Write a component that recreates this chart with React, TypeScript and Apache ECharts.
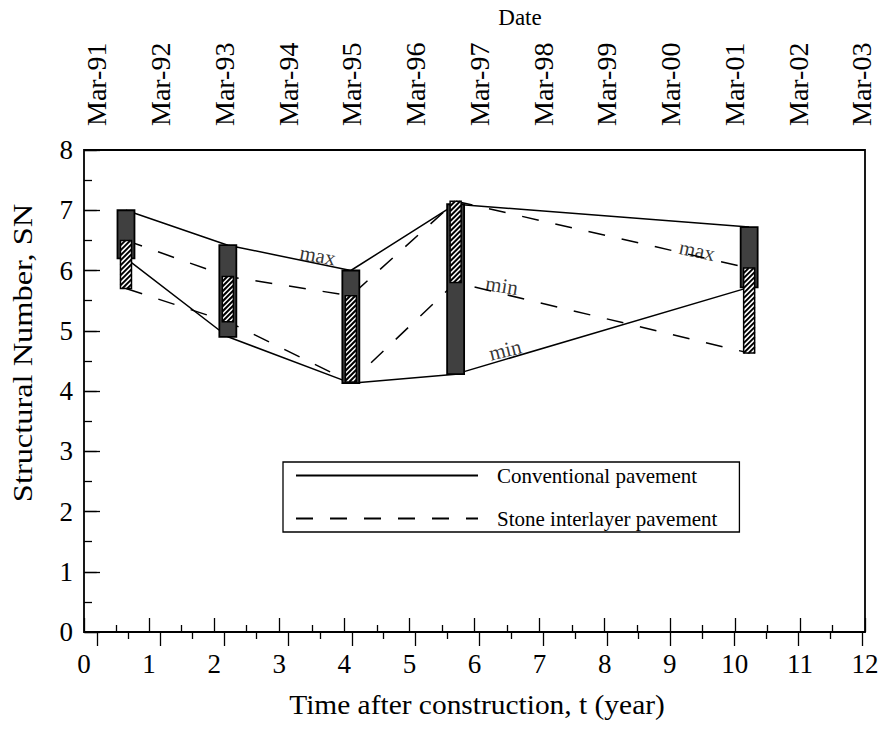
import React, { useEffect, useRef } from 'react';
import * as echarts from 'echarts';

// Measurement times (years after construction)
const years = [0.645, 2.21, 4.1, 5.71, 10.22];
// Conventional pavement SN range
const convMax = [7.0, 6.42, 6.0, 7.1, 6.72];
const convMin = [6.2, 4.9, 4.13, 4.28, 5.72];
// Stone interlayer pavement SN range
const stoneMax = [6.5, 5.9, 5.58, 7.15, 6.04];
const stoneMin = [5.7, 5.15, 4.15, 5.8, 4.63];

const dateLabels = ['Mar-91', 'Mar-92', 'Mar-93', 'Mar-94', 'Mar-95', 'Mar-96', 'Mar-97', 'Mar-98', 'Mar-99', 'Mar-00', 'Mar-01', 'Mar-02', 'Mar-03'];
const dateTicks = [0, 1, 2, 3, 4, 5, 6, 7, 8, 9, 10, 11, 12];
const dateMinorTicks = [0.5, 1.5, 2.5, 3.5, 4.5, 5.5, 6.5, 7.5, 8.5, 9.5, 10.5, 11.5];

const annoText = ['max', 'max', 'min', 'min'];
const annoT = [3.59, 9.42, 6.42, 6.47];
const annoV = [6.25, 6.33, 5.75, 4.68];
const annoRot = [-10, -12, -9, 14];

const FONT = '"Liberation Serif", "DejaVu Serif", serif';

function rangeRenderer(widthPx: number, kind: 'dark' | 'hatch') {
  return (params: any, api: any) => {
    const t = api.value(0);
    const lo = api.value(1);
    const hi = api.value(2);
    const pTop = api.coord([t, hi]);
    const pBot = api.coord([t, lo]);
    const x0 = pTop[0] - widthPx / 2;
    const x1 = pTop[0] + widthPx / 2;
    const yT = pTop[1];
    const yB = pBot[1];
    const rectShape = { x: x0, y: yT, width: widthPx, height: yB - yT };
    if (kind === 'dark') {
      return {
        type: 'rect',
        shape: rectShape,
        style: { fill: '#404040', stroke: '#000', lineWidth: 1.8 },
      };
    }
    const children: any[] = [
      { type: 'rect', shape: rectShape, style: { fill: '#fff', stroke: '#000', lineWidth: 1.5 } },
    ];
    const step = 5;
    for (let k = x0 + yT + step; k < x1 + yB; k += step) {
      const xa = Math.max(x0, k - yB);
      const xb = Math.min(x1, k - yT);
      if (xb - xa > 0.6) {
        children.push({
          type: 'line',
          shape: { x1: xa, y1: k - xa, x2: xb, y2: k - xb },
          style: { stroke: '#000', lineWidth: 2 },
        });
      }
    }
    return { type: 'group', children };
  };
}

export default function App() {
  const ref = useRef<HTMLDivElement>(null);
  useEffect(() => {
    if (!ref.current) return;
    const chart = echarts.init(ref.current, undefined, { renderer: 'svg' });
    const gridBox = { left: 84, right: 21, top: 150, bottom: 104 };
    const tickStyle = { color: '#000', width: 1.3 };
    const labelStyle = { fontFamily: FONT, fontSize: 27, color: '#000' };
    const option: any = {
      animation: false,
      backgroundColor: '#fff',
      grid: [
        { ...gridBox, show: true, borderColor: '#000', borderWidth: 1.8, backgroundColor: 'transparent' },
        { ...gridBox, show: false },
      ],
      graphic: [
        {
          type: 'text',
          x: 520,
          y: 6,
          style: { text: 'Date', fontFamily: FONT, fontSize: 23, fill: '#000', textAlign: 'center' },
        },
        {
          type: 'text',
          x: 477,
          y: 705,
          scaleX: 1.09,
          style: {
            text: 'Time after construction, t (year)',
            fontFamily: FONT,
            fontSize: 27,
            fill: '#000',
            textAlign: 'center',
            textVerticalAlign: 'middle',
          },
        },
        {
          type: 'text',
          x: 22,
          y: 353,
          rotation: Math.PI / 2,
          scaleX: 1.2,
          style: {
            text: 'Structural Number, SN',
            fontFamily: FONT,
            fontSize: 27,
            fill: '#000',
            textAlign: 'center',
            textVerticalAlign: 'middle',
          },
        },
      ],
      legend: {
        orient: 'vertical',
        left: 283,
        top: 462,
        data: ['Conventional pavement', 'Stone interlayer pavement'],
        itemWidth: 182,
        itemHeight: 20,
        itemGap: 22,
        padding: [3, 22, 3, 12],
        borderColor: '#000',
        borderWidth: 1.3,
        backgroundColor: '#fff',
        itemStyle: { color: 'rgba(0,0,0,0)', borderWidth: 0, opacity: 0 },
        textStyle: { fontFamily: FONT, fontSize: 21, color: '#000', padding: [0, 0, 0, 14] },
      },
      xAxis: [
        {
          type: 'value',
          gridIndex: 0,
          position: 'bottom',
          min: 0,
          max: 12,
          interval: 1,
          axisLine: { show: false },
          axisTick: { inside: true, length: 14, lineStyle: tickStyle },
          minorTick: { show: true, splitNumber: 2, length: 7, lineStyle: tickStyle },
          splitLine: { show: false },
          axisLabel: { ...labelStyle, margin: 18 },
        },
        {
          type: 'value',
          gridIndex: 0,
          position: 'top',
          min: -0.2,
          max: 12.05,
          axisLine: { show: false },
          axisTick: { inside: true, length: 14, lineStyle: tickStyle, customValues: dateTicks },
          splitLine: { show: false },
          axisLabel: {
            ...labelStyle,
            fontSize: 28,
            rotate: 90,
            margin: 24,
            customValues: dateTicks,
            formatter: (v: number) => dateLabels[Math.round(v)],
          },
        },
        {
          type: 'value',
          gridIndex: 1,
          position: 'top',
          min: -0.2,
          max: 12.05,
          axisLine: { show: false },
          axisTick: { inside: true, length: 7, lineStyle: tickStyle, customValues: dateMinorTicks },
          splitLine: { show: false },
          axisLabel: { show: false },
        },
      ],
      yAxis: [
        {
          type: 'value',
          gridIndex: 0,
          position: 'left',
          min: 0,
          max: 8,
          interval: 1,
          axisLine: { show: false },
          axisTick: { inside: true, length: 16, lineStyle: tickStyle },
          minorTick: { show: true, splitNumber: 2, length: 8, lineStyle: tickStyle },
          splitLine: { show: false },
          axisLabel: { ...labelStyle, margin: 11 },
        },
        {
          type: 'value',
          gridIndex: 0,
          position: 'right',
          min: 0,
          max: 8,
          interval: 1,
          axisLine: { show: false },
          axisTick: { inside: true, length: 12, lineStyle: tickStyle },
          splitLine: { show: false },
          axisLabel: { show: false },
        },
        {
          type: 'value',
          gridIndex: 1,
          min: 0,
          max: 8,
          show: false,
        },
      ],
      series: [
        {
          type: 'line',
          name: 'Conventional pavement',
          xAxisIndex: 0,
          yAxisIndex: 0,
          data: years.map((t, i) => [t, convMax[i]]),
          symbol: 'none',
          color: '#000',
          lineStyle: { color: '#000', width: 1.5, type: 'solid' },
          z: 2,
        },
        {
          type: 'line',
          name: 'Conventional pavement',
          xAxisIndex: 0,
          yAxisIndex: 0,
          data: years.map((t, i) => [t, convMin[i]]),
          symbol: 'none',
          color: '#000',
          lineStyle: { color: '#000', width: 1.5, type: 'solid' },
          z: 2,
        },
        {
          type: 'line',
          name: 'Stone interlayer pavement',
          xAxisIndex: 0,
          yAxisIndex: 0,
          data: years.map((t, i) => [t, stoneMax[i]]),
          symbol: 'none',
          color: '#000',
          lineStyle: { color: '#000', width: 1.5, type: [17, 17] },
          z: 2,
        },
        {
          type: 'line',
          name: 'Stone interlayer pavement',
          xAxisIndex: 0,
          yAxisIndex: 0,
          data: years.map((t, i) => [t, stoneMin[i]]),
          symbol: 'none',
          color: '#000',
          lineStyle: { color: '#000', width: 1.5, type: [17, 17] },
          z: 2,
        },
        {
          type: 'custom',
          name: 'convRange',
          xAxisIndex: 0,
          yAxisIndex: 0,
          renderItem: rangeRenderer(17, 'dark'),
          data: years.map((t, i) => [t, convMin[i], convMax[i]]),
          encode: { x: 0, y: [1, 2] },
          z: 5,
        },
        {
          type: 'custom',
          name: 'stoneRange',
          xAxisIndex: 0,
          yAxisIndex: 0,
          renderItem: rangeRenderer(11, 'hatch'),
          data: years.map((t, i) => [t, stoneMin[i], stoneMax[i]]),
          encode: { x: 0, y: [1, 2] },
          z: 6,
        },
        {
          type: 'scatter',
          name: 'labels',
          xAxisIndex: 0,
          yAxisIndex: 0,
          symbolSize: 0,
          silent: true,
          z: 7,
          data: annoText.map((txt, i) => ({
            value: [annoT[i], annoV[i]],
            label: { formatter: txt, rotate: annoRot[i] },
          })),
          label: {
            show: true,
            position: 'inside',
            fontFamily: FONT,
            fontSize: 21,
            color: '#000',
          },
        },
      ],
    };
    chart.setOption(option);
    return () => chart.dispose();
  }, []);
  return (
    <div
      ref={ref}
      style={{ position: 'fixed', left: 0, top: 0, width: 886, height: 736, background: '#fff' }}
    />
  );
}
